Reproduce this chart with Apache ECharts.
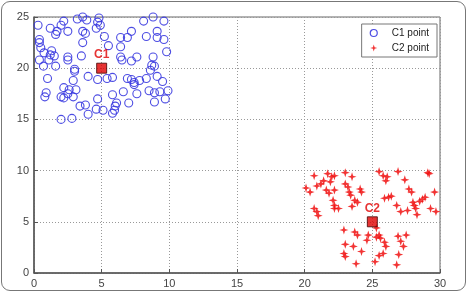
<!DOCTYPE html>
<html>
<head>
<meta charset="utf-8">
<script src="https://cdn.jsdelivr.net/npm/echarts@6/dist/echarts.min.js"></script>
<style>
html, body { margin: 0; padding: 0; background: #fff; }
#frame {
	position: absolute; left: 1px; top: 1px; width: 465px; height: 290px;
	border: 1.5px solid #777; border-radius: 9px; box-sizing: border-box;
}
#main { position: absolute; left: 0; top: 0; width: 469px; height: 294px; }
</style>
</head>
<body>
<div id="frame"></div>
<div id="main"></div>
<script>
// cluster 1 points (x, y)
var c1Points = [
	[0.3,24.2],[2.2,24.6],[2.0,24.2],[1.2,23.9],[1.7,23.6],[1.6,23.3],[2.5,23.6],[3.2,24.8],
	[3.6,25.0],[3.9,24.7],[4.8,24.9],[4.7,24.5],[4.6,23.9],[4.9,24.2],[3.6,23.6],[3.8,23.4],
	[5.2,23.1],[3.6,22.5],[0.4,22.8],[0.4,22.5],[0.5,22.0],[0.74,21.5],[1.3,21.7],[1.2,21.3],
	[1.5,21.2],[0.4,20.8],[1.1,20.8],[0.7,20.2],[1.6,20.2],[2.5,21.1],[2.5,20.8],[3.5,21.2],
	[3.0,19.9],[3.0,19.7],[1.0,19.0],[2.9,18.8],[4.0,19.2],[4.7,18.9],[5.4,19.0],[5.8,19.1],
	[5.5,22.2],[6.4,22.1],[6.4,23.0],[6.9,23.0],[7.2,23.6],[6.4,21.1],[6.5,20.8],[7.2,20.7],
	[7.6,21.1],[8.1,24.6],[8.8,25.0],[9.6,24.6],[9.1,23.6],[8.3,23.1],[9.1,23.0],[9.6,22.8],
	[9.8,21.6],[8.8,21.1],[8.7,20.3],[8.9,20.2],[8.6,19.8],[9.1,19.2],[9.5,18.7],[8.3,19.0],
	[6.9,19.0],[7.2,18.9],[7.4,18.6],[7.8,18.8],[7.4,18.4],[2.2,18.1],[2.6,17.9],[3.1,17.9],
	[2.5,17.5],[2.0,17.2],[2.2,17.1],[0.9,17.6],[0.8,17.2],[2.9,17.2],[4.7,17.0],[5.8,17.4],
	[6.6,17.7],[7.6,17.5],[8.5,17.8],[8.9,17.6],[9.3,17.7],[9.9,17.8],[9.7,17.0],[8.9,16.7],
	[7.0,16.6],[6.1,16.6],[6.0,16.3],[5.95,15.9],[5.8,15.6],[3.4,16.3],[3.8,16.4],[4.0,15.5],
	[4.6,16.0],[5.1,15.9],[2.0,15.0],[2.8,15.1]
];
// cluster 2 points (x, y)
var c2Points = [
	[20.1,8.3],[20.4,7.9],[20.7,9.5],[20.9,8.5],[21.2,8.7],[21.4,9.0],[21.7,9.7],[22.0,9.4],
	[22.2,9.5],[21.9,8.9],[21.6,8.1],[21.8,7.8],[22.2,8.1],[20.7,6.3],[20.9,6.0],[21.0,5.6],
	[22.1,7.1],[22.2,6.6],[22.2,6.3],[22.5,6.3],[23.0,9.8],[23.5,9.4],[23.0,8.7],[23.2,8.4],
	[23.3,7.9],[23.4,7.6],[23.7,7.1],[23.5,6.5],[23.9,6.9],[24.1,8.2],[24.2,7.9],[25.5,9.9],
	[25.8,9.5],[26.1,9.4],[26.0,9.0],[26.9,9.9],[27.4,9.1],[27.7,8.2],[27.9,7.9],[25.9,7.3],
	[26.2,7.4],[26.4,7.5],[26.8,6.6],[27.1,6.0],[27.6,6.1],[28.0,6.9],[28.1,6.6],[28.2,6.3],
	[28.3,5.7],[28.5,7.0],[28.7,7.2],[28.9,7.4],[29.1,9.8],[29.2,9.7],[29.6,7.9],[29.3,6.3],
	[29.7,6.0],[22.9,4.2],[23.7,4.0],[23.9,3.7],[23.0,2.8],[23.6,2.6],[22.9,1.9],[23.0,1.6],
	[23.8,0.9],[24.2,2.1],[24.6,3.2],[24.7,3.7],[25.3,4.4],[25.5,3.7],[25.3,3.5],[25.6,3.4],
	[25.9,3.0],[26.0,2.6],[25.8,1.9],[25.5,1.7],[25.2,1.1],[26.8,0.8],[26.95,1.8],[26.9,3.6],
	[27.5,3.7],[27.1,3.1],[27.3,2.6]
];
var centroids = [[5, 20], [25, 5]];
var centroidNames = ["C1", "C2"];

var chart = echarts.init(document.getElementById("main"));
var starPath = "path://M0,-10L2.4,-2.4L10,0L2.4,2.4L0,10L-2.4,2.4L-10,0L-2.4,-2.4Z";
var blue = "#3a3ae0";
var red = "#f01010";
var axisText = { color: "#444", fontSize: 11, fontFamily: "Liberation Sans, Arial" };

var option = {
	animation: false,
	grid: {
		left: 34, right: 29, top: 17, bottom: 21,
		show: true, borderColor: "#666", borderWidth: 1
	},
	legend: {
		orient: "vertical",
		right: 32, top: 24,
		align: "left",
		backgroundColor: "#fff",
		borderColor: "#777",
		borderWidth: 1,
		borderRadius: 0,
		padding: [4, 8, 4, 8],
		itemGap: 5,
		itemWidth: 26, itemHeight: 7,
		textStyle: { color: "#222", fontSize: 10, fontFamily: "Liberation Sans, Arial" },
		data: [
			{ name: "C1 point", icon: "circle", itemStyle: { color: "rgba(0,0,0,0)", borderColor: blue, borderWidth: 1.2 } },
			{ name: "C2 point", icon: starPath, itemStyle: { color: red } }
		]
	},
	xAxis: {
		type: "value", min: 0, max: 30, interval: 5,
		axisLine: { show: true, onZero: false, lineStyle: { color: "#555", width: 1.5 } },
		axisTick: { show: true, inside: true, length: 4, lineStyle: { color: "#555" } },
		axisLabel: Object.assign({ margin: 5 }, axisText),
		splitLine: { show: true, lineStyle: { color: "#999", type: [1, 2] } }
	},
	yAxis: {
		type: "value", min: 0, max: 25, interval: 5,
		axisLine: { show: true, onZero: false, lineStyle: { color: "#555", width: 1.5 } },
		axisTick: { show: true, inside: true, length: 4, lineStyle: { color: "#555" } },
		axisLabel: Object.assign({ margin: 5 }, axisText),
		splitLine: { show: true, lineStyle: { color: "#999", type: [1, 2] } }
	},
	series: [
		{
			name: "C1 point", type: "scatter", data: c1Points,
			symbol: "circle", symbolSize: 8,
			itemStyle: { color: "rgba(0,0,0,0)", borderColor: blue, borderWidth: 1.1, opacity: 0.9 }
		},
		{
			name: "C2 point", type: "scatter", data: c2Points,
			symbol: starPath, symbolSize: 9,
			itemStyle: { color: red, opacity: 0.85 }
		},
		{
			name: "centroid", type: "scatter",
			data: centroids.map(function (c, i) { return { value: c, name: centroidNames[i] }; }),
			symbol: "rect", symbolSize: 10, z: 5,
			itemStyle: { color: "#e00000", borderColor: "#400", borderWidth: 1 },
			label: {
				show: true, position: "top", distance: 2,
				formatter: "{b}", color: "#e00000", fontSize: 12, fontWeight: "bold",
				fontFamily: "Liberation Sans, Arial"
			}
		}
	]
};
chart.setOption(option);
</script>
</body>
</html>
